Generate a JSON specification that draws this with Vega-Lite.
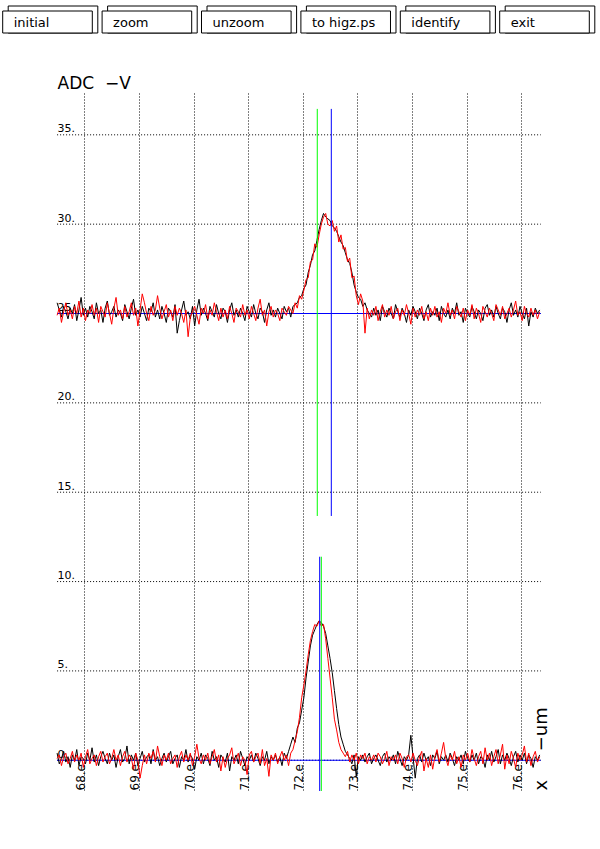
{
"$schema": "https://vega.github.io/schema/vega-lite/v6.json",
"padding": {"left": 0, "top": 5, "right": 0, "bottom": 0},
"background": "white",
"bounds": "flush",
"spacing": 60,
"config": {"view": {"stroke": null}, "font": "DejaVu Sans"},
"vconcat": [
{
"width": 600, "height": 27,
"data": {"values": [{"label": "initial"}, {"label": "zoom"}, {"label": "unzoom"}, {"label": "to higz.ps"}, {"label": "identify"}, {"label": "exit"}]},
"encoding": {"x": {"field": "label", "type": "nominal", "sort": null, "scale": {"range": [2.7, 589.3], "paddingInner": 0.0986, "paddingOuter": 0}, "axis": null}},
"layer": [
{"mark": {"type": "bar", "fill": "white", "stroke": "black", "strokeWidth": 1, "xOffset": 5.5, "y2Offset": -5}},
{"mark": {"type": "bar", "fill": "white", "stroke": "black", "strokeWidth": 1, "yOffset": 5}},
{"mark": {"type": "text", "align": "left", "baseline": "middle", "dx": 11, "yOffset": 3, "fontSize": 13, "color": "black"},
 "encoding": {"x": {"field": "label", "type": "nominal", "sort": null, "bandPosition": 0}, "text": {"field": "label"}}}
]
},
{
"width": 600, "height": 698,
"data": {"values": [
{"x":67.50,"a":25.6,"b":24.9,"c":0.4,"d":0.1},
{"x":67.54,"a":25.2,"b":25.3,"c":-0.2,"d":0.3},
{"x":67.58,"a":24.8,"b":24.5,"c":0.1,"d":-0.3},
{"x":67.62,"a":25.4,"b":25.1,"c":0.5,"d":0.2},
{"x":67.66,"a":25.1,"b":25.6,"c":-0.1,"d":0.4},
{"x":67.70,"a":24.7,"b":24.9,"c":0.2,"d":-0.2},
{"x":67.74,"a":25.3,"b":25.2,"c":-0.4,"d":0.1},
{"x":67.78,"a":25.0,"b":24.7,"c":0.3,"d":0.5},
{"x":67.82,"a":25.5,"b":25.4,"c":0.0,"d":-0.1},
{"x":67.86,"a":24.6,"b":25.0,"c":0.6,"d":0.3},
{"x":67.90,"a":25.2,"b":25.7,"c":-0.3,"d":0.0},
{"x":67.94,"a":25.9,"b":24.8,"c":0.2,"d":0.4},
{"x":67.98,"a":24.9,"b":25.3,"c":0.1,"d":-0.4},
{"x":68.02,"a":25.3,"b":24.6,"c":-0.2,"d":0.2},
{"x":68.06,"a":24.8,"b":25.2,"c":0.4,"d":0.6},
{"x":68.10,"a":25.4,"b":25.0,"c":0.0,"d":-0.2},
{"x":68.14,"a":25.1,"b":25.5,"c":0.7,"d":0.1},
{"x":68.18,"a":24.7,"b":24.9,"c":-0.1,"d":0.3},
{"x":68.22,"a":25.6,"b":25.3,"c":0.3,"d":-0.3},
{"x":68.26,"a":25.0,"b":24.5,"c":-0.3,"d":0.2},
{"x":68.30,"a":25.2,"b":25.4,"c":0.2,"d":0.5},
{"x":68.34,"a":24.5,"b":25.1,"c":0.5,"d":-0.1},
{"x":68.38,"a":25.3,"b":24.8,"c":0.1,"d":0.2},
{"x":68.42,"a":25.7,"b":25.6,"c":-0.2,"d":0.4},
{"x":68.46,"a":24.9,"b":25.0,"c":0.4,"d":-0.2},
{"x":68.50,"a":25.1,"b":24.4,"c":0.0,"d":0.1},
{"x":68.54,"a":25.4,"b":25.3,"c":0.3,"d":0.6},
{"x":68.58,"a":24.8,"b":25.9,"c":-0.4,"d":0.0},
{"x":68.62,"a":25.2,"b":24.9,"c":0.2,"d":0.3},
{"x":68.66,"a":25.0,"b":25.2,"c":0.6,"d":-0.3},
{"x":68.70,"a":24.6,"b":24.7,"c":-0.1,"d":0.2},
{"x":68.74,"a":25.5,"b":25.4,"c":0.1,"d":0.5},
{"x":68.78,"a":25.1,"b":24.8,"c":0.8,"d":-0.1},
{"x":68.82,"a":24.7,"b":25.1,"c":-0.2,"d":0.3},
{"x":68.86,"a":25.3,"b":25.6,"c":0.3,"d":0.1},
{"x":68.90,"a":25.8,"b":24.9,"c":0.0,"d":-0.5},
{"x":68.94,"a":24.9,"b":25.3,"c":0.4,"d":0.4},
{"x":68.98,"a":25.2,"b":24.3,"c":-0.3,"d":0.0},
{"x":69.02,"a":24.8,"b":25.2,"c":0.1,"d":-1.0},
{"x":69.06,"a":25.4,"b":26.1,"c":0.5,"d":-0.3},
{"x":69.10,"a":25.0,"b":25.6,"c":-0.1,"d":0.3},
{"x":69.14,"a":24.6,"b":25.0,"c":0.2,"d":-0.2},
{"x":69.18,"a":25.3,"b":24.6,"c":0.3,"d":0.4},
{"x":69.22,"a":25.1,"b":25.4,"c":-0.2,"d":0.1},
{"x":69.26,"a":25.6,"b":24.9,"c":0.6,"d":0.5},
{"x":69.30,"a":24.8,"b":25.2,"c":0.0,"d":-0.1},
{"x":69.34,"a":25.2,"b":26.0,"c":0.2,"d":0.8},
{"x":69.38,"a":24.7,"b":25.3,"c":-0.3,"d":0.2},
{"x":69.42,"a":25.4,"b":24.7,"c":0.1,"d":-0.3},
{"x":69.46,"a":25.0,"b":25.1,"c":0.4,"d":0.3},
{"x":69.50,"a":24.5,"b":25.5,"c":-0.1,"d":0.0},
{"x":69.54,"a":25.3,"b":24.8,"c":0.2,"d":0.4},
{"x":69.58,"a":25.1,"b":25.2,"c":0.5,"d":-0.2},
{"x":69.62,"a":24.8,"b":24.6,"c":-0.2,"d":0.1},
{"x":69.66,"a":25.5,"b":25.4,"c":0.1,"d":0.3},
{"x":69.70,"a":23.9,"b":24.9,"c":0.3,"d":-0.4},
{"x":69.74,"a":24.6,"b":25.3,"c":-0.4,"d":0.2},
{"x":69.78,"a":25.2,"b":25.0,"c":0.2,"d":0.5},
{"x":69.82,"a":25.7,"b":24.5,"c":0.0,"d":-0.1},
{"x":69.86,"a":24.9,"b":25.2,"c":0.6,"d":0.3},
{"x":69.90,"a":25.1,"b":23.7,"c":-0.1,"d":0.0},
{"x":69.94,"a":24.7,"b":24.8,"c":0.3,"d":0.4},
{"x":69.98,"a":25.4,"b":25.1,"c":0.1,"d":-0.3},
{"x":70.02,"a":24.3,"b":25.4,"c":-0.5,"d":0.2},
{"x":70.06,"a":25.2,"b":24.9,"c":0.2,"d":0.9},
{"x":70.10,"a":25.8,"b":24.4,"c":0.0,"d":0.1},
{"x":70.14,"a":24.9,"b":25.3,"c":0.4,"d":-0.2},
{"x":70.18,"a":25.3,"b":25.0,"c":-0.2,"d":0.3},
{"x":70.22,"a":25.0,"b":25.5,"c":0.3,"d":0.0},
{"x":70.26,"a":24.6,"b":24.7,"c":0.1,"d":0.4},
{"x":70.30,"a":25.4,"b":25.2,"c":-0.3,"d":-0.2},
{"x":70.34,"a":25.1,"b":24.9,"c":0.5,"d":0.2},
{"x":70.38,"a":24.8,"b":25.6,"c":0.0,"d":0.6},
{"x":70.42,"a":25.5,"b":25.1,"c":0.2,"d":-0.1},
{"x":70.46,"a":25.0,"b":24.6,"c":-0.4,"d":0.3},
{"x":70.50,"a":24.7,"b":25.3,"c":0.3,"d":-0.6},
{"x":70.54,"a":25.3,"b":24.8,"c":0.1,"d":0.2},
{"x":70.58,"a":25.1,"b":25.2,"c":-0.1,"d":-0.4},
{"x":70.62,"a":24.5,"b":24.7,"c":0.4,"d":0.1},
{"x":70.66,"a":25.2,"b":25.4,"c":-0.6,"d":0.3},
{"x":70.70,"a":25.6,"b":25.0,"c":0.2,"d":0.7},
{"x":70.74,"a":24.9,"b":24.5,"c":0.0,"d":-0.2},
{"x":70.78,"a":25.2,"b":25.3,"c":0.3,"d":0.1},
{"x":70.82,"a":24.8,"b":25.1,"c":-0.2,"d":0.4},
{"x":70.86,"a":25.3,"b":24.8,"c":0.5,"d":-0.3},
{"x":70.90,"a":25.0,"b":25.5,"c":0.1,"d":0.2},
{"x":70.94,"a":24.6,"b":24.9,"c":-0.3,"d":0.0},
{"x":70.98,"a":25.4,"b":25.2,"c":0.2,"d":-0.8},
{"x":71.02,"a":25.1,"b":24.7,"c":0.0,"d":0.3},
{"x":71.06,"a":24.8,"b":25.4,"c":0.3,"d":0.5},
{"x":71.10,"a":25.5,"b":25.0,"c":-0.1,"d":-0.1},
{"x":71.14,"a":25.0,"b":24.6,"c":0.4,"d":0.2},
{"x":71.18,"a":24.7,"b":25.3,"c":0.1,"d":0.4},
{"x":71.22,"a":25.3,"b":25.8,"c":-0.3,"d":-0.2},
{"x":71.26,"a":25.1,"b":24.9,"c":0.2,"d":0.6},
{"x":71.30,"a":24.5,"b":25.2,"c":0.0,"d":-0.3},
{"x":71.34,"a":25.2,"b":24.3,"c":0.5,"d":0.1},
{"x":71.38,"a":25.6,"b":25.1,"c":-0.2,"d":-0.9},
{"x":71.42,"a":24.9,"b":25.4,"c":0.2,"d":0.3},
{"x":71.46,"a":25.2,"b":24.8,"c":0.0,"d":0.0},
{"x":71.50,"a":24.8,"b":25.2,"c":0.3,"d":0.4},
{"x":71.54,"a":25.3,"b":25.0,"c":-0.1,"d":-0.2},
{"x":71.58,"a":25.0,"b":24.6,"c":0.2,"d":0.2},
{"x":71.62,"a":24.7,"b":25.3,"c":-0.3,"d":0.5},
{"x":71.66,"a":25.4,"b":25.1,"c":0.4,"d":0.0},
{"x":71.70,"a":25.1,"b":24.9,"c":0.1,"d":0.3},
{"x":71.74,"a":25.3,"b":25.4,"c":0.5,"d":-0.3},
{"x":71.78,"a":24.8,"b":25.2,"c":0.9,"d":0.4},
{"x":71.82,"a":25.4,"b":25.0,"c":1.3,"d":0.6},
{"x":71.86,"a":25.5,"b":25.6,"c":1.0,"d":1.1},
{"x":71.90,"a":25.6,"b":25.3,"c":1.8,"d":1.6},
{"x":71.94,"a":25.9,"b":26.0,"c":2.1,"d":2.4},
{"x":71.98,"a":26.0,"b":25.8,"c":2.8,"d":3.5},
{"x":72.02,"a":26.4,"b":26.3,"c":3.5,"d":4.2},
{"x":72.06,"a":26.6,"b":26.9,"c":4.6,"d":5.0},
{"x":72.10,"a":27.3,"b":27.0,"c":5.5,"d":5.9},
{"x":72.14,"a":27.7,"b":27.9,"c":6.4,"d":6.7},
{"x":72.18,"a":28.3,"b":28.0,"c":7.0,"d":7.2},
{"x":72.22,"a":28.5,"b":28.9,"c":7.3,"d":7.6},
{"x":72.26,"a":29.1,"b":28.7,"c":7.6,"d":7.5},
{"x":72.30,"a":29.7,"b":29.4,"c":7.8,"d":7.8},
{"x":72.34,"a":30.2,"b":30.0,"c":7.7,"d":7.5},
{"x":72.38,"a":30.6,"b":30.4,"c":7.5,"d":7.6},
{"x":72.42,"a":30.4,"b":30.6,"c":7.1,"d":6.8},
{"x":72.46,"a":30.3,"b":30.0,"c":6.4,"d":5.7},
{"x":72.50,"a":30.2,"b":29.9,"c":5.7,"d":4.6},
{"x":72.54,"a":29.9,"b":30.2,"c":4.9,"d":3.5},
{"x":72.58,"a":29.8,"b":29.6,"c":3.9,"d":2.3},
{"x":72.62,"a":29.6,"b":29.9,"c":2.9,"d":1.7},
{"x":72.66,"a":29.3,"b":29.0,"c":2.0,"d":1.0},
{"x":72.70,"a":29.0,"b":29.4,"c":1.3,"d":0.6},
{"x":72.74,"a":28.8,"b":28.6,"c":0.9,"d":0.4},
{"x":72.78,"a":28.4,"b":28.7,"c":0.5,"d":0.2},
{"x":72.82,"a":28.0,"b":27.9,"c":0.3,"d":0.5},
{"x":72.86,"a":27.8,"b":28.1,"c":0.1,"d":-0.1},
{"x":72.90,"a":27.3,"b":27.0,"c":-0.2,"d":0.3},
{"x":72.94,"a":26.6,"b":27.1,"c":0.3,"d":0.0},
{"x":72.98,"a":26.2,"b":26.0,"c":-0.9,"d":0.4},
{"x":73.02,"a":25.9,"b":25.5,"c":0.2,"d":-0.2},
{"x":73.06,"a":25.8,"b":26.1,"c":0.0,"d":0.3},
{"x":73.10,"a":25.4,"b":25.7,"c":0.3,"d":0.1},
{"x":73.14,"a":25.6,"b":23.9,"c":-0.1,"d":0.4},
{"x":73.18,"a":25.2,"b":25.3,"c":0.2,"d":-0.2},
{"x":73.22,"a":25.0,"b":24.7,"c":0.4,"d":0.2},
{"x":73.26,"a":24.8,"b":25.2,"c":-0.2,"d":0.0},
{"x":73.30,"a":25.3,"b":24.9,"c":0.1,"d":0.3},
{"x":73.34,"a":24.9,"b":25.4,"c":0.3,"d":-0.1},
{"x":73.38,"a":25.2,"b":24.6,"c":0.0,"d":0.4},
{"x":73.42,"a":24.6,"b":25.1,"c":-0.3,"d":0.2},
{"x":73.46,"a":25.4,"b":25.5,"c":0.2,"d":-0.2},
{"x":73.50,"a":25.1,"b":24.8,"c":0.4,"d":0.1},
{"x":73.54,"a":24.8,"b":25.2,"c":-0.1,"d":0.5},
{"x":73.58,"a":25.3,"b":24.9,"c":0.2,"d":-0.3},
{"x":73.62,"a":25.0,"b":25.4,"c":0.0,"d":0.2},
{"x":73.66,"a":24.7,"b":24.7,"c":0.3,"d":0.0},
{"x":73.70,"a":25.5,"b":25.1,"c":-0.2,"d":0.3},
{"x":73.74,"a":25.1,"b":25.3,"c":0.5,"d":-0.2},
{"x":73.78,"a":24.8,"b":24.6,"c":0.1,"d":0.4},
{"x":73.82,"a":25.3,"b":25.2,"c":-0.3,"d":0.1},
{"x":73.86,"a":25.0,"b":24.9,"c":0.2,"d":-0.4},
{"x":73.90,"a":24.5,"b":25.5,"c":0.0,"d":0.2},
{"x":73.94,"a":25.2,"b":25.0,"c":0.3,"d":0.3},
{"x":73.98,"a":24.9,"b":24.4,"c":1.4,"d":-0.1},
{"x":74.02,"a":25.4,"b":25.3,"c":0.2,"d":0.4},
{"x":74.06,"a":25.1,"b":24.8,"c":-1.0,"d":0.0},
{"x":74.10,"a":24.7,"b":25.2,"c":0.1,"d":-0.3},
{"x":74.14,"a":25.3,"b":24.9,"c":0.3,"d":0.2},
{"x":74.18,"a":25.0,"b":25.4,"c":-0.1,"d":0.5},
{"x":74.22,"a":24.6,"b":24.7,"c":0.4,"d":-0.6},
{"x":74.26,"a":25.2,"b":25.1,"c":0.0,"d":0.1},
{"x":74.30,"a":25.5,"b":24.6,"c":0.2,"d":-0.4},
{"x":74.34,"a":24.8,"b":25.3,"c":-0.3,"d":0.3},
{"x":74.38,"a":25.1,"b":24.9,"c":0.3,"d":-0.5},
{"x":74.42,"a":24.9,"b":25.4,"c":0.1,"d":0.2},
{"x":74.46,"a":25.3,"b":24.8,"c":0.5,"d":0.6},
{"x":74.50,"a":24.6,"b":25.1,"c":-0.2,"d":-0.1},
{"x":74.54,"a":25.4,"b":24.5,"c":0.2,"d":0.4},
{"x":74.58,"a":25.0,"b":25.3,"c":0.0,"d":1.0},
{"x":74.62,"a":24.8,"b":25.0,"c":0.3,"d":0.1},
{"x":74.66,"a":25.2,"b":25.6,"c":-0.1,"d":-0.3},
{"x":74.70,"a":24.7,"b":24.9,"c":0.4,"d":0.3},
{"x":74.74,"a":25.3,"b":25.2,"c":0.1,"d":0.0},
{"x":74.78,"a":25.0,"b":24.7,"c":-0.3,"d":0.5},
{"x":74.82,"a":25.6,"b":25.4,"c":0.2,"d":-0.2},
{"x":74.86,"a":24.9,"b":25.1,"c":0.0,"d":0.2},
{"x":74.90,"a":25.1,"b":24.8,"c":0.3,"d":-0.4},
{"x":74.94,"a":24.5,"b":25.3,"c":-0.2,"d":0.3},
{"x":74.98,"a":25.3,"b":24.6,"c":0.5,"d":0.0},
{"x":75.02,"a":25.0,"b":25.2,"c":0.1,"d":0.4},
{"x":75.06,"a":24.8,"b":24.9,"c":-0.1,"d":-0.1},
{"x":75.10,"a":25.4,"b":25.5,"c":0.3,"d":0.6},
{"x":75.14,"a":25.1,"b":24.7,"c":0.0,"d":0.1},
{"x":75.18,"a":24.7,"b":25.3,"c":0.4,"d":-0.3},
{"x":75.22,"a":25.2,"b":25.0,"c":-0.2,"d":0.2},
{"x":75.26,"a":25.0,"b":24.5,"c":0.2,"d":0.5},
{"x":75.30,"a":24.6,"b":25.4,"c":0.1,"d":-0.2},
{"x":75.34,"a":25.3,"b":25.1,"c":-0.4,"d":0.7},
{"x":75.38,"a":25.5,"b":24.8,"c":0.3,"d":0.0},
{"x":75.42,"a":24.9,"b":25.3,"c":0.0,"d":0.4},
{"x":75.46,"a":25.2,"b":25.0,"c":0.5,"d":-0.3},
{"x":75.50,"a":24.8,"b":24.6,"c":-0.1,"d":0.2},
{"x":75.54,"a":25.4,"b":25.5,"c":0.2,"d":0.6},
{"x":75.58,"a":25.0,"b":25.2,"c":0.6,"d":-0.2},
{"x":75.62,"a":24.7,"b":24.9,"c":-0.2,"d":0.3},
{"x":75.66,"a":25.3,"b":25.4,"c":0.3,"d":0.9},
{"x":75.70,"a":25.1,"b":24.7,"c":0.0,"d":-0.5},
{"x":75.74,"a":24.5,"b":25.0,"c":0.4,"d":0.3},
{"x":75.78,"a":25.2,"b":25.3,"c":0.1,"d":-0.2},
{"x":75.82,"a":25.6,"b":24.8,"c":-0.3,"d":0.5},
{"x":75.86,"a":24.9,"b":25.2,"c":0.2,"d":0.1},
{"x":75.90,"a":25.2,"b":25.7,"c":0.5,"d":-0.4},
{"x":75.94,"a":24.8,"b":24.9,"c":-0.1,"d":0.4},
{"x":75.98,"a":25.4,"b":25.1,"c":0.3,"d":0.0},
{"x":76.02,"a":25.0,"b":24.6,"c":0.0,"d":0.3},
{"x":76.06,"a":24.7,"b":25.4,"c":0.4,"d":0.8},
{"x":76.10,"a":25.3,"b":25.0,"c":-0.2,"d":-0.1},
{"x":76.14,"a":24.3,"b":24.8,"c":0.3,"d":0.4},
{"x":76.18,"a":25.1,"b":25.3,"c":0.1,"d":-0.3},
{"x":76.22,"a":24.8,"b":24.9,"c":-0.4,"d":0.2},
{"x":76.26,"a":25.3,"b":25.2,"c":0.2,"d":0.5},
{"x":76.30,"a":25.0,"b":24.7,"c":0.0,"d":-0.1},
{"x":76.34,"a":25.2,"b":25.1,"c":0.3,"d":0.2}
]},
"layer": [
{
"data": {"values": [{"g":0},{"g":5},{"g":10},{"g":15},{"g":20},{"g":25},{"g":30},{"g":35}]},
"mark": {"type": "rule", "color": "black", "strokeDash": [1, 2], "strokeWidth": 1},
"encoding": {
"x": {"datum": 67.5, "type": "quantitative", "scale": {"domain": [66.454, 77.445], "nice": false, "zero": false},
 "axis": {"values": [68,69,70,71,72,73,74,75,76], "labelExpr": "datum.value + '.e'", "labelAngle": -90, "labelAlign": "left", "labelBaseline": "alphabetic", "labelPadding": -1, "ticks": false, "tickSize": 0, "domain": false, "grid": true, "gridColor": "black", "gridDash": [1, 2], "gridOpacity": 1, "gridWidth": 1, "labelFontSize": 12, "labelColor": "black", "labelFlush": false, "labelOverlap": false, "labelBound": false, "title": "x\u00a0\u00a0\u00a0\u00a0\u00a0\u2212um", "titleAngle": -90, "titleX": 546, "titleY": -1, "titleAlign": "left", "titleBaseline": "alphabetic", "titleFontSize": 18, "titleFontWeight": "normal", "titleColor": "black"}},
"x2": {"datum": 76.36},
"y": {"field": "g", "type": "quantitative", "scale": {"domain": [-1.72, 37.34], "nice": false, "zero": false},
 "axis": {"values": [0,5,10,15,20,25,30,35], "labelExpr": "datum.value + '.'", "labelAlign": "left", "labelBaseline": "alphabetic", "labelPadding": -57, "labelOffset": -3, "ticks": false, "tickSize": 0, "domain": false, "grid": false, "labelFontSize": 11, "labelColor": "black", "labelFlush": false, "labelOverlap": false, "labelBound": false, "title": "ADC\u00a0\u00a0\u2212V", "titleAngle": 0, "titleX": 57, "titleY": -5, "titleAlign": "left", "titleBaseline": "alphabetic", "titleFontSize": 17, "titleFontWeight": "normal", "titleColor": "black"}}
}
},
{
"data": {"values": [{"base": 0}, {"base": 25}]},
"mark": {"type": "rule", "color": "#0000ff", "strokeWidth": 1},
"encoding": {"x": {"datum": 67.5, "type": "quantitative"}, "x2": {"datum": 76.36}, "y": {"field": "base", "type": "quantitative"}}
},
{
"transform": [{"fold": ["a", "b", "c", "d"], "as": ["s", "v"]}],
"mark": {"type": "line", "strokeWidth": 1},
"encoding": {
"x": {"field": "x", "type": "quantitative"},
"y": {"field": "v", "type": "quantitative"},
"color": {"field": "s", "type": "nominal", "scale": {"domain": ["a", "b", "c", "d"], "range": ["black", "#ff0000", "black", "#ff0000"]}, "legend": null}
}
},
{
"data": {"values": [{"cx": 72.266, "lo": 13.67, "hi": 36.45}, {"cx": 72.34, "lo": -1.72, "hi": 11.39}]},
"mark": {"type": "rule", "color": "#00ff00", "strokeWidth": 1},
"encoding": {"x": {"field": "cx", "type": "quantitative"}, "y": {"field": "lo", "type": "quantitative"}, "y2": {"field": "hi"}}
},
{
"data": {"values": [{"cx": 72.523, "lo": 13.67, "hi": 36.45}, {"cx": 72.31, "lo": -1.72, "hi": 11.39}]},
"mark": {"type": "rule", "color": "#0000ff", "strokeWidth": 1},
"encoding": {"x": {"field": "cx", "type": "quantitative"}, "y": {"field": "lo", "type": "quantitative"}, "y2": {"field": "hi"}}
}
]
}
]
}
